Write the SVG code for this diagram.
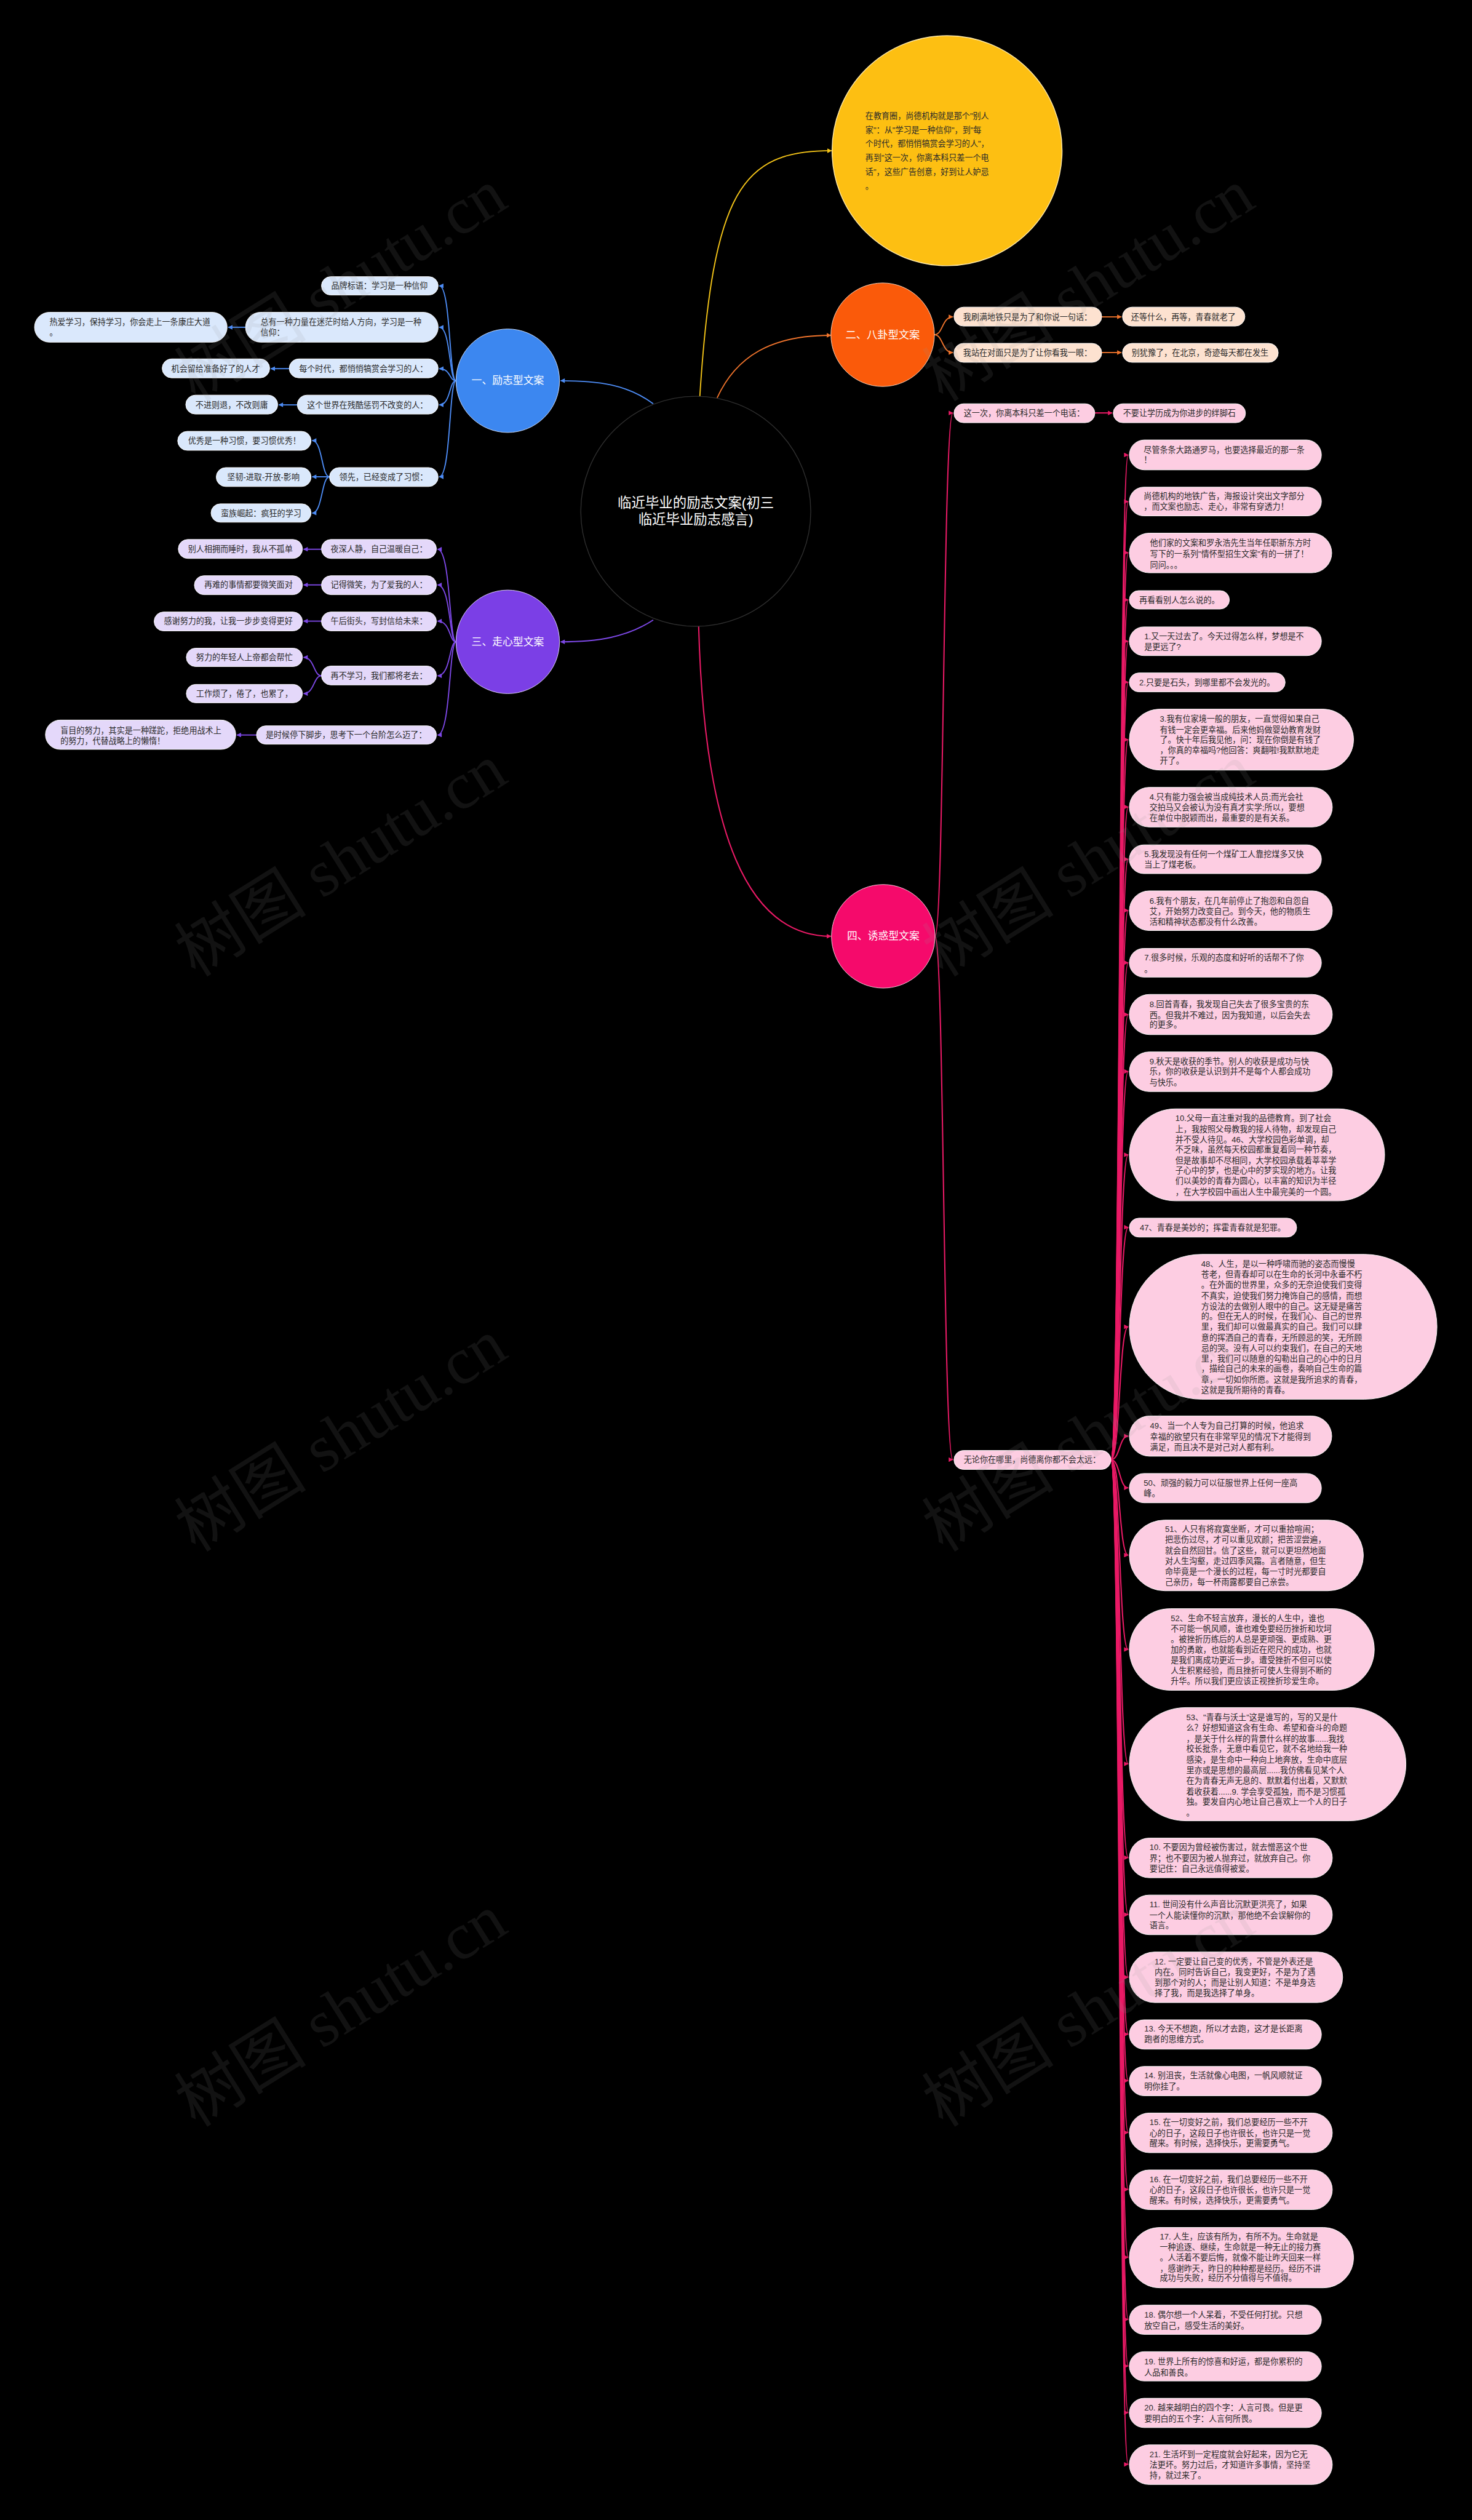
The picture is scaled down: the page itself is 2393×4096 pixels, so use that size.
<svg xmlns="http://www.w3.org/2000/svg" width="2393" height="4096" viewBox="0 0 2393 4096">
<defs>
<style>
.t{font-family:'Liberation Sans','Noto Sans CJK SC',sans-serif;font-size:14px;fill:#2a2a2a}
.c{text-anchor:middle}
.w{font-family:'Liberation Sans','Noto Sans CJK SC',sans-serif;fill:#fff;text-anchor:middle}
.pb{fill:#DAE8FC;stroke:#fff;stroke-width:1}
.pp{fill:#E4D8FA;stroke:#fff;stroke-width:1}
.po{fill:#FDE2D0;stroke:#fff;stroke-width:1}
.pk{fill:#FDCDE2;stroke:#fff;stroke-width:1}
.lb{fill:none;stroke:#4D8CF5;stroke-width:2}
.lp{fill:none;stroke:#7D48E6;stroke-width:2}
.lo{fill:none;stroke:#F0742C;stroke-width:2}
.lk{fill:none;stroke:#EA1A66;stroke-width:2.2}
.ly{fill:none;stroke:#F5C518;stroke-width:2}
.wm{font-family:'Liberation Serif','Noto Sans CJK SC',serif;font-size:115px;fill:#969696;opacity:0.12}
</style>
<marker id="mb" viewBox="0 0 10 10" refX="9" refY="5" markerWidth="9" markerHeight="8" markerUnits="userSpaceOnUse" orient="auto"><path d="M0,0 L10,5 L0,10 z" fill="#4D8CF5"/></marker>
<marker id="mp" viewBox="0 0 10 10" refX="9" refY="5" markerWidth="9" markerHeight="8" markerUnits="userSpaceOnUse" orient="auto"><path d="M0,0 L10,5 L0,10 z" fill="#7D48E6"/></marker>
<marker id="mo" viewBox="0 0 10 10" refX="9" refY="5" markerWidth="9" markerHeight="8" markerUnits="userSpaceOnUse" orient="auto"><path d="M0,0 L10,5 L0,10 z" fill="#F0742C"/></marker>
<marker id="mk" viewBox="0 0 10 10" refX="9" refY="5" markerWidth="9" markerHeight="8" markerUnits="userSpaceOnUse" orient="auto"><path d="M0,0 L10,5 L0,10 z" fill="#EA1A66"/></marker>
<marker id="my" viewBox="0 0 10 10" refX="9" refY="5" markerWidth="9" markerHeight="8" markerUnits="userSpaceOnUse" orient="auto"><path d="M0,0 L10,5 L0,10 z" fill="#F5C518"/></marker>
</defs>
<rect x="0" y="0" width="2393" height="4096" fill="#000"/>
<g transform="scale(0.9348)">

<g id="connectors">
<path class="ly" marker-end="url(#my)" d="M1217,690 C1240,330 1290,262 1446,262"/>
<path class="lo" stroke-width="3" marker-end="url(#mo)" d="M1247,692 C1280,620 1340,583 1445,583"/>
<path class="lb" stroke-width="3" marker-end="url(#mb)" d="M1136,702 C1090,668 1040,662 975,662"/>
<path class="lp" stroke-width="3" marker-end="url(#mp)" d="M1136,1078 C1090,1108 1040,1116 975,1116"/>
<path class="lk" stroke-width="3" marker-end="url(#mk)" d="M1215,1089 C1225,1450 1300,1628 1445,1628"/>

<path class="lb" marker-end="url(#mb)" d="M793,662 C781,662 784,497 764,497"/>
<path class="lb" marker-end="url(#mb)" d="M793,662 C781,662 784,569 764,569"/>
<path class="lb" marker-end="url(#mb)" d="M793,662 C781,662 784,641 764,641"/>
<path class="lb" marker-end="url(#mb)" d="M793,662 C781,662 784,704 764,704"/>
<path class="lb" marker-end="url(#mb)" d="M793,662 C781,662 784,829 764,829"/>
<path class="lb" marker-end="url(#mb)" d="M427,569 L397,569"/>
<path class="lb" marker-end="url(#mb)" d="M503,641 L471,641"/>
<path class="lb" marker-end="url(#mb)" d="M517,704 L485,704"/>
<path class="lb" marker-end="url(#mb)" d="M573,829 C559,829 561,766 543,766"/>
<path class="lb" marker-end="url(#mb)" d="M573,829 L543,829"/>
<path class="lb" marker-end="url(#mb)" d="M573,829 C559,829 561,892 543,892"/>

<path class="lp" marker-end="url(#mp)" d="M793,1116 C781,1116 784,955 761,955"/>
<path class="lp" marker-end="url(#mp)" d="M793,1116 C781,1116 784,1017 761,1017"/>
<path class="lp" marker-end="url(#mp)" d="M793,1116 C781,1116 784,1080 761,1080"/>
<path class="lp" marker-end="url(#mp)" d="M793,1116 C781,1116 784,1175 761,1175"/>
<path class="lp" marker-end="url(#mp)" d="M793,1116 C781,1116 784,1278 761,1278"/>
<path class="lp" marker-end="url(#mp)" d="M559,955 L528,955"/>
<path class="lp" marker-end="url(#mp)" d="M559,1017 L528,1017"/>
<path class="lp" marker-end="url(#mp)" d="M559,1080 L528,1080"/>
<path class="lp" marker-end="url(#mp)" d="M559,1175 C545,1175 547,1143 528,1143"/>
<path class="lp" marker-end="url(#mp)" d="M559,1175 C545,1175 547,1206 528,1206"/>
<path class="lp" marker-end="url(#mp)" d="M446,1278 L412,1278"/>

<path class="lo" marker-end="url(#mo)" d="M1625,582 C1640,582 1638,551 1657,551"/>
<path class="lo" marker-end="url(#mo)" d="M1625,582 C1640,582 1638,613 1657,613"/>
<path class="lo" marker-end="url(#mo)" d="M1916,551 L1950,551"/>
<path class="lo" marker-end="url(#mo)" d="M1916,613 L1950,613"/>

<path class="lk" marker-end="url(#mk)" d="M1626,1628 C1642,1628 1640,718 1657,718"/>
<path class="lk" marker-end="url(#mk)" d="M1626,1628 C1642,1628 1640,2538 1657,2538"/>
<path class="lk" marker-end="url(#mk)" d="M1904,718 L1934,718"/>

<path class="lk" marker-end="url(#mk)" d="M1932,2538 C1948,2538 1946,791 1962,791"/>
<path class="lk" marker-end="url(#mk)" d="M1932,2538 C1948,2538 1946,872 1962,872"/>
<path class="lk" marker-end="url(#mk)" d="M1932,2538 C1948,2538 1946,961 1962,961"/>
<path class="lk" marker-end="url(#mk)" d="M1932,2538 C1948,2538 1946,1043 1962,1043"/>
<path class="lk" marker-end="url(#mk)" d="M1932,2538 C1948,2538 1946,1115 1962,1115"/>
<path class="lk" marker-end="url(#mk)" d="M1932,2538 C1948,2538 1946,1186 1962,1186"/>
<path class="lk" marker-end="url(#mk)" d="M1932,2538 C1948,2538 1946,1286 1962,1286"/>
<path class="lk" marker-end="url(#mk)" d="M1932,2538 C1948,2538 1946,1403 1962,1403"/>
<path class="lk" marker-end="url(#mk)" d="M1932,2538 C1948,2538 1946,1494 1962,1494"/>
<path class="lk" marker-end="url(#mk)" d="M1932,2538 C1948,2538 1946,1583 1962,1583"/>
<path class="lk" marker-end="url(#mk)" d="M1932,2538 C1948,2538 1946,1674 1962,1674"/>
<path class="lk" marker-end="url(#mk)" d="M1932,2538 C1948,2538 1946,1764 1962,1764"/>
<path class="lk" marker-end="url(#mk)" d="M1932,2538 C1948,2538 1946,1863 1962,1863"/>
<path class="lk" marker-end="url(#mk)" d="M1932,2538 C1948,2538 1946,2008 1962,2008"/>
<path class="lk" marker-end="url(#mk)" d="M1932,2538 C1948,2538 1946,2134 1962,2134"/>
<path class="lk" marker-end="url(#mk)" d="M1932,2538 C1948,2538 1946,2307 1962,2307"/>
<path class="lk" marker-end="url(#mk)" d="M1932,2538 C1948,2538 1946,2497 1962,2497"/>
<path class="lk" marker-end="url(#mk)" d="M1932,2538 C1948,2538 1946,2587 1962,2587"/>
<path class="lk" marker-end="url(#mk)" d="M1932,2538 C1948,2538 1946,2704 1962,2704"/>
<path class="lk" marker-end="url(#mk)" d="M1932,2538 C1948,2538 1946,2868 1962,2868"/>
<path class="lk" marker-end="url(#mk)" d="M1932,2538 C1948,2538 1946,3067 1962,3067"/>
<path class="lk" marker-end="url(#mk)" d="M1932,2538 C1948,2538 1946,3230 1962,3230"/>
<path class="lk" marker-end="url(#mk)" d="M1932,2538 C1948,2538 1946,3329 1962,3329"/>
<path class="lk" marker-end="url(#mk)" d="M1932,2538 C1948,2538 1946,3438 1962,3438"/>
<path class="lk" marker-end="url(#mk)" d="M1932,2538 C1948,2538 1946,3537 1962,3537"/>
<path class="lk" marker-end="url(#mk)" d="M1932,2538 C1948,2538 1946,3618 1962,3618"/>
<path class="lk" marker-end="url(#mk)" d="M1932,2538 C1948,2538 1946,3708 1962,3708"/>
<path class="lk" marker-end="url(#mk)" d="M1932,2538 C1948,2538 1946,3807 1962,3807"/>
<path class="lk" marker-end="url(#mk)" d="M1932,2538 C1948,2538 1946,3925 1962,3925"/>
<path class="lk" marker-end="url(#mk)" d="M1932,2538 C1948,2538 1946,4033 1962,4033"/>
<path class="lk" marker-end="url(#mk)" d="M1932,2538 C1948,2538 1946,4114 1962,4114"/>
<path class="lk" marker-end="url(#mk)" d="M1932,2538 C1948,2538 1946,4195 1962,4195"/>
<path class="lk" marker-end="url(#mk)" d="M1932,2538 C1948,2538 1946,4285 1962,4285"/>
</g>

<g id="root">
<circle cx="1210" cy="889" r="200" fill="#000" stroke="#2e2e2e" stroke-width="1.5"/>
<text class="w" font-size="24" x="1210" y="883">临近毕业的励志文案(初三</text>
<text class="w" font-size="24" x="1210" y="911">临近毕业励志感言)</text>
</g>

<g id="intro">
<circle cx="1647" cy="262" r="200" fill="#FDBF12" stroke="#FFE9A8" stroke-width="1.5"/>
<text class="t" font-size="18.5" fill="#333">
<tspan x="1505" y="206.5">在教育圈，尚德机构就是那个"别人</tspan>
<tspan x="1505" y="231">家"：从"学习是一种信仰"，到"每</tspan>
<tspan x="1505" y="255">个时代，都悄悄犒赏会学习的人"，</tspan>
<tspan x="1505" y="279.5">再到"这一次，你离本科只差一个电</tspan>
<tspan x="1505" y="304">话"，这些广告创意，好到让人妒忌</tspan>
<tspan x="1505" y="328">。</tspan>
</text>
</g>

<g id="b1">
<circle cx="883" cy="662" r="90" fill="#3C87F0" stroke="#cfe0ff" stroke-width="1"/>
<text class="w" font-size="18" x="883" y="668">一、励志型文案</text>
</g>
<g id="b1-1"><rect class="pb" x="559" y="481" width="203" height="32" rx="16"/><text class="t c" x="660" y="502">品牌标语：学习是一种信仰</text></g>
<g id="b1-2"><rect class="pb" x="427" y="543" width="335" height="52" rx="26"/><text class="t"><tspan x="453" y="565">总有一种力量在迷茫时给人方向，学习是一种</tspan><tspan x="453" y="583">信仰：</tspan></text></g>
<g id="b1-2-1"><rect class="pb" x="60" y="543" width="335" height="52" rx="26"/><text class="t"><tspan x="86" y="565">热爱学习，保持学习，你会走上一条康庄大道</tspan><tspan x="86" y="583">。</tspan></text></g>
<g id="b1-3"><rect class="pb" x="503" y="624" width="259" height="33" rx="16.5"/><text class="t c" x="632" y="646">每个时代，都悄悄犒赏会学习的人：</text></g>
<g id="b1-3-1"><rect class="pb" x="282" y="624" width="187" height="33" rx="16.5"/><text class="t c" x="375" y="646">机会留给准备好了的人才</text></g>
<g id="b1-4"><rect class="pb" x="517" y="687" width="245" height="33" rx="16.5"/><text class="t c" x="639" y="709">这个世界在残酷惩罚不改变的人：</text></g>
<g id="b1-4-1"><rect class="pb" x="323" y="687" width="160" height="33" rx="16.5"/><text class="t c" x="403" y="709">不进则退，不改则庸</text></g>
<g id="b1-5"><rect class="pb" x="573" y="813" width="189" height="33" rx="16.5"/><text class="t c" x="667" y="834">领先，已经变成了习惯：</text></g>
<g id="b1-5-1"><rect class="pb" x="309" y="750" width="232" height="33" rx="16.5"/><text class="t c" x="425" y="771">优秀是一种习惯，要习惯优秀！</text></g>
<g id="b1-5-2"><rect class="pb" x="376" y="813" width="165" height="33" rx="16.5"/><text class="t c" x="458" y="834">坚韧-进取-开放-影响</text></g>
<g id="b1-5-3"><rect class="pb" x="367" y="876" width="174" height="32" rx="16"/><text class="t c" x="454" y="897">蛮族崛起：疯狂的学习</text></g>

<g id="b3">
<circle cx="883" cy="1116" r="90" fill="#7B3FE6" stroke="#e3d6ff" stroke-width="1"/>
<text class="w" font-size="18" x="883" y="1122">三、走心型文案</text>
</g>
<g id="b3-1"><rect class="pp" x="559" y="938" width="200" height="33" rx="16.5"/><text class="t c" x="659" y="960">夜深人静，自己温暖自己：</text></g>
<g id="b3-1-1"><rect class="pp" x="310" y="938" width="216" height="33" rx="16.5"/><text class="t c" x="418" y="960">别人相拥而睡时，我从不孤单</text></g>
<g id="b3-2"><rect class="pp" x="559" y="1001" width="200" height="33" rx="16.5"/><text class="t c" x="659" y="1022">记得微笑，为了爱我的人：</text></g>
<g id="b3-2-1"><rect class="pp" x="338" y="1001" width="188" height="33" rx="16.5"/><text class="t c" x="432" y="1022">再难的事情都要微笑面对</text></g>
<g id="b3-3"><rect class="pp" x="559" y="1064" width="200" height="33" rx="16.5"/><text class="t c" x="659" y="1085">午后街头，写封信给未来：</text></g>
<g id="b3-3-1"><rect class="pp" x="268" y="1064" width="258" height="33" rx="16.5"/><text class="t c" x="397" y="1085">感谢努力的我，让我一步步变得更好</text></g>
<g id="b3-4"><rect class="pp" x="559" y="1158" width="200" height="33" rx="16.5"/><text class="t c" x="659" y="1180">再不学习，我们都将老去：</text></g>
<g id="b3-4-1"><rect class="pp" x="324" y="1127" width="202" height="32" rx="16"/><text class="t c" x="425" y="1148">努力的年轻人上帝都会帮忙</text></g>
<g id="b3-4-2"><rect class="pp" x="324" y="1190" width="202" height="32" rx="16"/><text class="t c" x="425" y="1211">工作烦了，倦了，也累了，</text></g>
<g id="b3-5"><rect class="pp" x="446" y="1262" width="313" height="32" rx="16"/><text class="t c" x="602" y="1283">是时候停下脚步，思考下一个台阶怎么迈了：</text></g>
<g id="b3-5-1"><rect class="pp" x="79" y="1252" width="331" height="51" rx="25.5"/><text class="t"><tspan x="105" y="1275">盲目的努力，其实是一种蹉跎，拒绝用战术上</tspan><tspan x="105" y="1293">的努力，代替战略上的懒惰！</tspan></text></g>

<g id="b2">
<circle cx="1535" cy="582" r="90" fill="#FA5A0A" stroke="#ffd9c2" stroke-width="1"/>
<text class="w" font-size="18.5" x="1535" y="588">二、八卦型文案</text>
</g>
<g id="b2-1"><rect class="po" x="1659" y="534" width="257" height="33" rx="16.5"/><text class="t c" x="1787" y="556">我刷满地铁只是为了和你说一句话：</text></g>
<g id="b2-1-1"><rect class="po" x="1952" y="534" width="213" height="33" rx="16.5"/><text class="t c" x="2058" y="556">还等什么，再等，青春就老了</text></g>
<g id="b2-2"><rect class="po" x="1659" y="597" width="257" height="33" rx="16.5"/><text class="t c" x="1787" y="618">我站在对面只是为了让你看我一眼：</text></g>
<g id="b2-2-1"><rect class="po" x="1952" y="597" width="271" height="33" rx="16.5"/><text class="t c" x="2087" y="618">别犹豫了，在北京，奇迹每天都在发生</text></g>

<g id="b4">
<circle cx="1536" cy="1628" r="90" fill="#F50A6B" stroke="#ffd0e2" stroke-width="1"/>
<text class="w" font-size="18" x="1536" y="1634">四、诱惑型文案</text>
</g>
<g id="b4-1"><rect class="pk" x="1659" y="702" width="245" height="33" rx="16.5"/><text class="t c" x="1781" y="723">这一次，你离本科只差一个电话：</text></g>
<g id="b4-1-1"><rect class="pk" x="1936" y="702" width="230" height="33" rx="16.5"/><text class="t c" x="2051" y="723">不要让学历成为你进步的绊脚石</text></g>
<g id="b4-2"><rect class="pk" x="1659" y="2522" width="273" height="33" rx="16.5"/><text class="t c" x="1795" y="2543">无论你在哪里，尚德离你都不会太远：</text></g>

<g id="k1"><rect class="pk" x="1964" y="765" width="334" height="52" rx="26"/><text class="t"><tspan x="1989" y="787">尽管条条大路通罗马，也要选择最近的那一条</tspan><tspan x="1989" y="804">！</tspan></text></g>
<g id="k2"><rect class="pk" x="1964" y="847" width="334" height="50" rx="25"/><text class="t"><tspan x="1989" y="868">尚德机构的地铁广告，海报设计突出文字部分</tspan><tspan x="1989" y="886">，而文案也励志、走心，非常有穿透力！</tspan></text></g>
<g id="k3"><rect class="pk" x="1964" y="927" width="352" height="69" rx="34.5"/><text class="t"><tspan x="2000" y="949">他们家的文案和罗永浩先生当年任职新东方时</tspan><tspan x="2000" y="968">写下的一系列"情怀型招生文案"有的一拼了！</tspan><tspan x="2000" y="987">同问。。。</tspan></text></g>
<g id="k4"><rect class="pk" x="1964" y="1027" width="174" height="32" rx="16"/><text class="t c" x="2051" y="1048">再看看别人怎么说的。</text></g>
<g id="k5"><rect class="pk" x="1964" y="1090" width="334" height="50" rx="25"/><text class="t"><tspan x="1990" y="1111">1.又一天过去了。今天过得怎么样，梦想是不</tspan><tspan x="1990" y="1130">是更远了?</tspan></text></g>
<g id="k6"><rect class="pk" x="1964" y="1170" width="271" height="33" rx="16.5"/><text class="t c" x="2099" y="1192">2.只要是石头，到哪里都不会发光的。</text></g>
<g id="k7"><rect class="pk" x="1964" y="1233" width="390" height="106" rx="53"/><text class="t"><tspan x="2017" y="1255">3.我有位家境一般的朋友，一直觉得如果自己</tspan><tspan x="2017" y="1274">有钱一定会更幸福。后来他妈做婴幼教育发财</tspan><tspan x="2017" y="1291">了。快十年后我见他，问：现在你倒是有钱了</tspan><tspan x="2017" y="1309">，你真的幸福吗?他回答：爽翻啦!我默默地走</tspan><tspan x="2017" y="1328">开了。</tspan></text></g>
<g id="k8"><rect class="pk" x="1964" y="1369" width="353" height="69" rx="34.5"/><text class="t"><tspan x="1999" y="1391">4.只有能力强会被当成纯技术人员;而光会社</tspan><tspan x="1999" y="1409">交拍马又会被认为没有真才实学;所以，要想</tspan><tspan x="1999" y="1427">在单位中脱颖而出，最重要的是有关系。</tspan></text></g>
<g id="k9"><rect class="pk" x="1964" y="1469" width="334" height="50" rx="25"/><text class="t"><tspan x="1990" y="1490">5.我发现没有任何一个煤矿工人靠挖煤多又快</tspan><tspan x="1990" y="1508">当上了煤老板。</tspan></text></g>
<g id="k10"><rect class="pk" x="1964" y="1549" width="353" height="69" rx="34.5"/><text class="t"><tspan x="1999" y="1571">6.我有个朋友，在几年前停止了抱怨和自怨自</tspan><tspan x="1999" y="1590">艾，开始努力改变自己。到今天，他的物质生</tspan><tspan x="1999" y="1608">活和精神状态都没有什么改善。</tspan></text></g>
<g id="k11"><rect class="pk" x="1964" y="1649" width="334" height="50" rx="25"/><text class="t"><tspan x="1990" y="1670">7.很多时候，乐观的态度和好听的话帮不了你</tspan><tspan x="1990" y="1690">。</tspan></text></g>
<g id="k12"><rect class="pk" x="1964" y="1729" width="353" height="70" rx="35"/><text class="t"><tspan x="1999" y="1751">8.回首青春，我发现自己失去了很多宝贵的东</tspan><tspan x="1999" y="1770">西。但我并不难过，因为我知道，以后会失去</tspan><tspan x="1999" y="1787">的更多。</tspan></text></g>
<g id="k13"><rect class="pk" x="1964" y="1829" width="353" height="69" rx="34.5"/><text class="t"><tspan x="1999" y="1851">9.秋天是收获的季节。别人的收获是成功与快</tspan><tspan x="1999" y="1868">乐，你的收获是认识到并不是每个人都会成功</tspan><tspan x="1999" y="1887">与快乐。</tspan></text></g>
<g id="k14"><rect class="pk" x="1964" y="1928" width="444" height="160" rx="80"/><text class="t"><tspan x="2044" y="1949">10.父母一直注重对我的品德教育。到了社会</tspan><tspan x="2044" y="1968">上，我按照父母教我的接人待物，却发现自己</tspan><tspan x="2044" y="1986">并不受人待见。46、大学校园色彩单调，却</tspan><tspan x="2044" y="2004">不乏味，虽然每天校园都重复着同一种节奏，</tspan><tspan x="2044" y="2023">但是故事却不尽相同，大学校园承载着莘莘学</tspan><tspan x="2044" y="2040">子心中的梦，也是心中的梦实现的地方。让我</tspan><tspan x="2044" y="2058">们以美妙的青春为圆心，以丰富的知识为半径</tspan><tspan x="2044" y="2077">，在大学校园中画出人生中最完美的一个圆。</tspan></text></g>
<g id="k15"><rect class="pk" x="1964" y="2118" width="291" height="33" rx="16.5"/><text class="t c" x="2109" y="2139">47、青春是美妙的；挥霍青春就是犯罪。</text></g>
<g id="k16"><rect class="pk" x="1964" y="2181" width="535" height="252" rx="126"/><text class="t"><tspan x="2089" y="2203">48、人生，是以一种呼啸而驰的姿态而慢慢</tspan><tspan x="2089" y="2221">苍老，但青春却可以在生命的长河中永垂不朽</tspan><tspan x="2089" y="2239">。在外面的世界里，众多的无奈迫使我们变得</tspan><tspan x="2089" y="2258">不真实，迫使我们努力掩饰自己的感情，而想</tspan><tspan x="2089" y="2276">方设法的去做别人眼中的自己。这无疑是痛苦</tspan><tspan x="2089" y="2294">的。但在无人的时候，在我们心、自己的世界</tspan><tspan x="2089" y="2312">里，我们却可以做最真实的自己。我们可以肆</tspan><tspan x="2089" y="2331">意的挥洒自己的青春，无所顾忌的笑，无所顾</tspan><tspan x="2089" y="2349">忌的哭。没有人可以约束我们，在自己的天地</tspan><tspan x="2089" y="2367">里，我们可以随意的勾勒出自己的心中的日月</tspan><tspan x="2089" y="2385">，描绘自己的未来的画卷，奏响自己生命的篇</tspan><tspan x="2089" y="2404">章，一切如你所愿。这就是我所追求的青春，</tspan><tspan x="2089" y="2422">这就是我所期待的青春。</tspan></text></g>
<g id="k17"><rect class="pk" x="1964" y="2462" width="352" height="70" rx="35"/><text class="t"><tspan x="2000" y="2484">49、当一个人专为自己打算的时候，他追求</tspan><tspan x="2000" y="2503">幸福的欲望只有在非常罕见的情况下才能得到</tspan><tspan x="2000" y="2521">满足，而且决不是对己对人都有利。</tspan></text></g>
<g id="k18"><rect class="pk" x="1964" y="2562" width="334" height="51" rx="25.5"/><text class="t"><tspan x="1989" y="2583">50、顽强的毅力可以征服世界上任何一座高</tspan><tspan x="1989" y="2602">峰。</tspan></text></g>
<g id="k19"><rect class="pk" x="1964" y="2643" width="407" height="123" rx="61.5"/><text class="t"><tspan x="2026" y="2664">51、人只有将寂寞坐断，才可以重拾喧闹；</tspan><tspan x="2026" y="2682">把悲伤过尽，才可以重见欢颜；把苦涩尝遍，</tspan><tspan x="2026" y="2701">就会自然回甘。信了这些，就可以更坦然地面</tspan><tspan x="2026" y="2719">对人生沟壑，走过四季风霜。言者随意，但生</tspan><tspan x="2026" y="2738">命毕竟是一个漫长的过程，每一寸时光都要自</tspan><tspan x="2026" y="2756">己亲历，每一杯雨露都要自己亲尝。</tspan></text></g>
<g id="k20"><rect class="pk" x="1964" y="2797" width="426" height="142" rx="71"/><text class="t"><tspan x="2036" y="2819">52、生命不轻言放弃，漫长的人生中，谁也</tspan><tspan x="2036" y="2837">不可能一帆风顺，谁也难免要经历挫折和坎坷</tspan><tspan x="2036" y="2855">。被挫折历练后的人总是更顽强、更成熟、更</tspan><tspan x="2036" y="2873">加的勇敢，也就能看到近在咫尺的成功，也就</tspan><tspan x="2036" y="2891">是我们离成功更近一步。遭受挫折不但可以使</tspan><tspan x="2036" y="2910">人生积累经验，而且挫折可使人生得到不断的</tspan><tspan x="2036" y="2928">升华。所以我们更应该正视挫折珍爱生命。</tspan></text></g>
<g id="k21"><rect class="pk" x="1964" y="2969" width="481" height="197" rx="98.5"/><text class="t"><tspan x="2063" y="2991">53、"青春与沃土"这是谁写的，写的又是什</tspan><tspan x="2063" y="3009">么？好想知道这含有生命、希望和奋斗的命题</tspan><tspan x="2063" y="3028">，是关于什么样的背景什么样的故事......我找</tspan><tspan x="2063" y="3046">校长批条，无意中看见它，就不名地给我一种</tspan><tspan x="2063" y="3065">感染，是生命中一种向上地奔放，生命中底层</tspan><tspan x="2063" y="3083">里亦或是思想的最高层......我仿佛看见某个人</tspan><tspan x="2063" y="3101">在为青春无声无息的、默默着付出着，又默默</tspan><tspan x="2063" y="3120">着收获着......9. 学会享受孤独，而不是习惯孤</tspan><tspan x="2063" y="3138">独。要发自内心地让自己喜欢上一个人的日子</tspan><tspan x="2063" y="3157">。</tspan></text></g>
<g id="k22"><rect class="pk" x="1964" y="3196" width="353" height="69" rx="34.5"/><text class="t"><tspan x="1999" y="3217">10. 不要因为曾经被伤害过，就去憎恶这个世</tspan><tspan x="1999" y="3236">界；也不要因为被人抛弃过，就放弃自己。你</tspan><tspan x="1999" y="3254">要记住：自己永远值得被爱。</tspan></text></g>
<g id="k23"><rect class="pk" x="1964" y="3295" width="353" height="69" rx="34.5"/><text class="t"><tspan x="1999" y="3316">11. 世间没有什么声音比沉默更洪亮了，如果</tspan><tspan x="1999" y="3335">一个人能读懂你的沉默，那他绝不会误解你的</tspan><tspan x="1999" y="3353">语言。</tspan></text></g>
<g id="k24"><rect class="pk" x="1964" y="3394" width="371" height="88" rx="44"/><text class="t"><tspan x="2008" y="3416">12. 一定要让自己变的优秀，不管是外表还是</tspan><tspan x="2008" y="3434">内在。同时告诉自己，我变更好，不是为了遇</tspan><tspan x="2008" y="3452">到那个对的人；而是让别人知道：不是单身选</tspan><tspan x="2008" y="3470">择了我，而是我选择了单身。</tspan></text></g>
<g id="k25"><rect class="pk" x="1964" y="3512" width="334" height="51" rx="25.5"/><text class="t"><tspan x="1990" y="3532">13. 今天不想跑，所以才去跑，这才是长距离</tspan><tspan x="1990" y="3551">跑者的思维方式。</tspan></text></g>
<g id="k26"><rect class="pk" x="1964" y="3593" width="334" height="51" rx="25.5"/><text class="t"><tspan x="1990" y="3614">14. 别沮丧，生活就像心电图，一帆风顺就证</tspan><tspan x="1990" y="3633">明你挂了。</tspan></text></g>
<g id="k27"><rect class="pk" x="1964" y="3674" width="353" height="69" rx="34.5"/><text class="t"><tspan x="1999" y="3695">15. 在一切变好之前，我们总要经历一些不开</tspan><tspan x="1999" y="3714">心的日子，这段日子也许很长，也许只是一觉</tspan><tspan x="1999" y="3731">醒来。有时候，选择快乐，更需要勇气。</tspan></text></g>
<g id="k28"><rect class="pk" x="1964" y="3773" width="353" height="69" rx="34.5"/><text class="t"><tspan x="1999" y="3794">16. 在一切变好之前，我们总要经历一些不开</tspan><tspan x="1999" y="3813">心的日子，这段日子也许很长，也许只是一觉</tspan><tspan x="1999" y="3831">醒来。有时候，选择快乐，更需要勇气。</tspan></text></g>
<g id="k29"><rect class="pk" x="1964" y="3873" width="390" height="105" rx="52.5"/><text class="t"><tspan x="2017" y="3894">17. 人生，应该有所为，有所不为。生命就是</tspan><tspan x="2017" y="3912">一种追逐、继续，生命就是一种无止的接力赛</tspan><tspan x="2017" y="3930">。人活着不要后悔，就像不能让昨天回来一样</tspan><tspan x="2017" y="3949">，感谢昨天，昨日的种种都是经历。经历不讲</tspan><tspan x="2017" y="3966">成功与失败，经历不分值得与不值得。</tspan></text></g>
<g id="k30"><rect class="pk" x="1964" y="4008" width="334" height="51" rx="25.5"/><text class="t"><tspan x="1990" y="4030">18. 偶尔想一个人呆着，不受任何打扰。只想</tspan><tspan x="1990" y="4049">放空自己，感受生活的美好。</tspan></text></g>
<g id="k31"><rect class="pk" x="1964" y="4089" width="334" height="51" rx="25.5"/><text class="t"><tspan x="1990" y="4111">19. 世界上所有的惊喜和好运，都是你累积的</tspan><tspan x="1990" y="4130">人品和善良。</tspan></text></g>
<g id="k32"><rect class="pk" x="1964" y="4170" width="334" height="51" rx="25.5"/><text class="t"><tspan x="1990" y="4191">20. 越来越明白的四个字：人言可畏。但是更</tspan><tspan x="1990" y="4210">要明白的五个字：人言何所畏。</tspan></text></g>
<g id="k33"><rect class="pk" x="1964" y="4251" width="353" height="69" rx="34.5"/><text class="t"><tspan x="1999" y="4273">21. 生活坏到一定程度就会好起来，因为它无</tspan><tspan x="1999" y="4291">法更坏。努力过后，才知道许多事情，坚持坚</tspan><tspan x="1999" y="4309">持，就过来了。</tspan></text></g>

<g id="watermarks">
<text class="wm" transform="translate(340,700) rotate(-32)">树图 shutu.cn</text>
<text class="wm" transform="translate(1640,700) rotate(-32)">树图 shutu.cn</text>
<text class="wm" transform="translate(340,1700) rotate(-32)">树图 shutu.cn</text>
<text class="wm" transform="translate(1640,1700) rotate(-32)">树图 shutu.cn</text>
<text class="wm" transform="translate(340,2700) rotate(-32)">树图 shutu.cn</text>
<text class="wm" transform="translate(1640,2700) rotate(-32)">树图 shutu.cn</text>
<text class="wm" transform="translate(340,3700) rotate(-32)">树图 shutu.cn</text>
<text class="wm" transform="translate(1640,3700) rotate(-32)">树图 shutu.cn</text>
</g>
</g>
</svg>
